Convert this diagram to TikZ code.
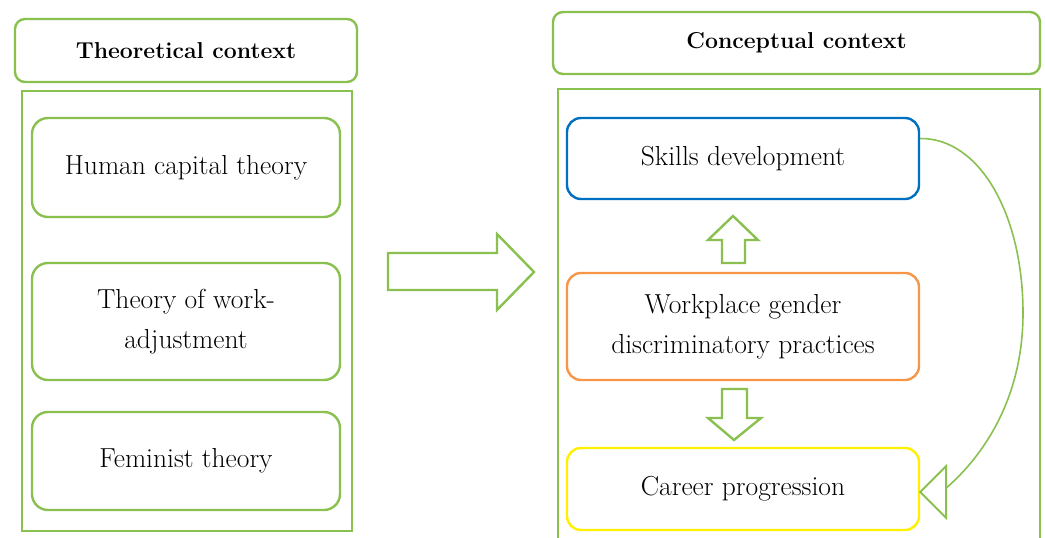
\documentclass[tikz,border=0pt]{standalone}
\usepackage{xcolor}
\definecolor{frame-green}{RGB}{137,192,80}
\definecolor{box-blue}{RGB}{0,112,192}
\definecolor{box-orange}{RGB}{247,150,70}
\definecolor{box-yellow}{RGB}{255,240,0}
\usetikzlibrary{calc}
\tikzset{
  header/.style={
    draw=frame-green,
    line width=2.4pt,
    rounded corners=10pt,
    font=\fontsize{23}{30}\selectfont\bfseries
  },
  container/.style={
    draw=frame-green,
    line width=2.4pt
  },
  theory/.style={
    draw=frame-green,
    line width=2.4pt,
    rounded corners=16pt,
    align=center,
    font=\fontsize{27.5}{40}\selectfont
  },
  concept/.style={
    line width=2.4pt,
    rounded corners=14pt,
    align=center,
    font=\fontsize{27.5}{40}\selectfont
  },
  block-arrow/.style={
    draw=frame-green,
    line width=2.4pt,
    line join=miter
  },
  link/.style={
    draw=frame-green,
    line width=1.6pt
  },
}

\begin{document}
\begin{tikzpicture}[x=1pt,y=-1pt]

  \useasboundingbox (0,0) rectangle (1045,538);

  \def\LEFTX{186}
  \def\RIGHTX{743}
  \def\THEOW{308}
  \def\CONCW{352}
  \def\TIPLEN{26}

  % headers
  \node[header, minimum width=342pt, minimum height=63pt] (theo-head) at (186,50.5) {Theoretical context};
  \node[header, minimum width=487pt, minimum height=62pt] (conc-head) at (796.5,43) {Conceptual context};

  % containers
  \draw[container] (22,91) rectangle (352,531);
  \draw[container] (558,89) rectangle (1040,560);

  % theories
  \node[theory, minimum width=\THEOW pt, minimum height=99pt] (human) at (\LEFTX,167.5) {Human capital theory};
  \node[theory, minimum width=\THEOW pt, minimum height=117pt] (work-adj) at (\LEFTX,321.5) {Theory of work-\\adjustment};
  \node[theory, minimum width=\THEOW pt, minimum height=98pt] (feminist) at (\LEFTX,461) {Feminist theory};

  % concepts
  \node[concept, draw=box-blue, minimum width=\CONCW pt, minimum height=81pt] (skills) at (\RIGHTX,158.5) {Skills development};
  \node[concept, draw=box-orange, minimum width=\CONCW pt, minimum height=107pt] (practices) at (\RIGHTX,326.5) {Workplace gender\\discriminatory practices};
  \node[concept, draw=box-yellow, minimum width=\CONCW pt, minimum height=82pt] (career) at (\RIGHTX,489) {Career progression};

  % block arrows
  \draw[block-arrow] (388,253) -- (497,253) -- (497,234) -- (534,272) -- (497,310) -- (497,290) -- (388,290) -- cycle;
  \draw[block-arrow] (722,263) -- (722,240) -- (708,240) -- (733,216) -- (758,240) -- (745,240) -- (745,263) -- cycle;
  \draw[block-arrow] (722,389) -- (747,389) -- (747,418) -- (761,418) -- (734,440) -- (708,418) -- (722,418) -- cycle;

  % feedback link
  \coordinate (link-start) at ([yshift=20pt]skills.east);
  \coordinate (link-tip) at ([yshift=-3pt]career.east);
  \coordinate (link-end) at ($(link-tip)+(\TIPLEN,-4)$);
  \draw[link] (link-start) .. controls (980,138) and (1023,215) .. (1023,313)
    .. controls (1023,400) and (982,457) .. (link-end);
  \draw[block-arrow, line width=2pt] (link-tip) -- ++(\TIPLEN,-\TIPLEN) -- ++(0,2*\TIPLEN) -- cycle;

\end{tikzpicture}
\end{document}
